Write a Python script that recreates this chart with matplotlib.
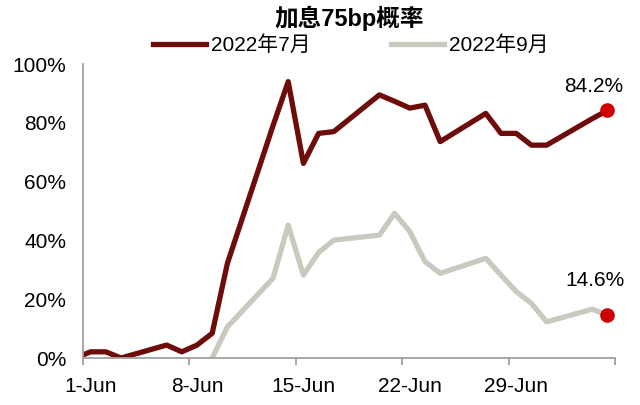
import numpy as np
import pandas as pd
import matplotlib
matplotlib.use("Agg")
import matplotlib.pyplot as plt

plt.rcParams['font.family'] = ['Liberation Sans', 'Noto Sans CJK SC']

# 数据（%）
dates = pd.to_datetime([
    '2022-05-31', '2022-06-01', '2022-06-02', '2022-06-03', '2022-06-06',
    '2022-06-07', '2022-06-08', '2022-06-09', '2022-06-10', '2022-06-13',
    '2022-06-14', '2022-06-15', '2022-06-16', '2022-06-17', '2022-06-20',
    '2022-06-21', '2022-06-22', '2022-06-23', '2022-06-24', '2022-06-27',
    '2022-06-28', '2022-06-29', '2022-06-30', '2022-07-01', '2022-07-04',
    '2022-07-05'])
jul = [0, 2.1, 2.1, 0, 4.4, 2.1, 4.4, 8.4, 32.2, 79.0,
       94.0, 66.2, 76.4, 77.0, 89.5, 87.3, 85.0, 86.0, 73.6, 83.2,
       76.4, 76.4, 72.4, 72.4, 81.4, 84.2]
sep = [np.nan, np.nan, np.nan, np.nan, np.nan, np.nan, np.nan, 0, 10.6, 27.1,
       45.2, 28.2, 35.9, 40.1, 41.8, 49.2, 43.0, 32.8, 28.8, 33.9,
       28.2, 22.6, 18.6, 12.3, 16.6, 14.6]

title = "加息75bp概率"
series_names = ["2022年7月", "2022年9月"]
tick_dates = pd.to_datetime(['2022-06-01', '2022-06-08', '2022-06-15',
                             '2022-06-22', '2022-06-29', '2022-07-06'])
tick_labels = ['1-Jun', '8-Jun', '15-Jun', '22-Jun', '29-Jun', '']
yticks = [0, 20, 40, 60, 80, 100]

c_jul = '#6E0B0B'
c_sep = '#C9C9BF'
c_dot = '#D00000'
c_axis = '#A0A0A0'

# points sit in the middle of each day (excel date axis)
half = pd.Timedelta(hours=12)
x = dates + half

fig = plt.figure(figsize=(6.4, 4.05), dpi=100)
ax = fig.add_axes([83/640, 1 - 358/405, (615 - 83)/640, (358 - 64)/405])

l1, = ax.plot(x, jul, color=c_jul, lw=3.8, label=series_names[0])
l2, = ax.plot(x, sep, color=c_sep, lw=3.8, label=series_names[1])

ax.plot(x[-1], jul[-1], 'o', color=c_dot, ms=9.5, zorder=5)
ax.plot(x[-1], sep[-1], 'o', color=c_dot, ms=9.5, zorder=5)
ax.annotate(f"{jul[-1]:.1f}%", (x[-1], jul[-1]), xytext=(-10, 17),
            textcoords='offset points', ha='center', va='center', fontsize=15)
ax.annotate(f"{sep[-1]:.1f}%", (x[-1], sep[-1]), xytext=(-9, 25),
            textcoords='offset points', ha='center', va='center', fontsize=15)

ax.set_xlim(tick_dates[0], tick_dates[-1])
ax.set_ylim(0, 100)
ax.set_yticks(yticks)
ax.set_yticklabels([f"{v}%" for v in yticks], fontsize=15)
ax.tick_params(axis='y', length=0, pad=12)

ax.set_xticks(tick_dates)
ax.set_xticklabels([''] * len(tick_dates))
ax.set_xticks(tick_dates[:-1] + half, minor=True)
ax.set_xticklabels(tick_labels[:-1], minor=True, fontsize=15)
ax.tick_params(axis='x', which='major', length=5, width=1.3, color=c_axis, direction='out')
ax.tick_params(axis='x', which='minor', length=0, pad=14)

for s in ['top', 'right']:
    ax.spines[s].set_visible(False)
for s in ['left', 'bottom']:
    ax.spines[s].set_color(c_axis)
    ax.spines[s].set_linewidth(1.3)

fig.text(349/640, 1 - 18/405, title, ha='center', va='center',
         fontsize=17, fontweight='bold')
fig.legend(handles=[l1, l2], loc='center', bbox_to_anchor=(351/640, 1 - 45/405),
           ncol=2, frameon=False, fontsize=15, handlelength=2.55,
           handletextpad=0.25, columnspacing=3.85, borderpad=0)

fig.savefig('out.png', dpi=100)
